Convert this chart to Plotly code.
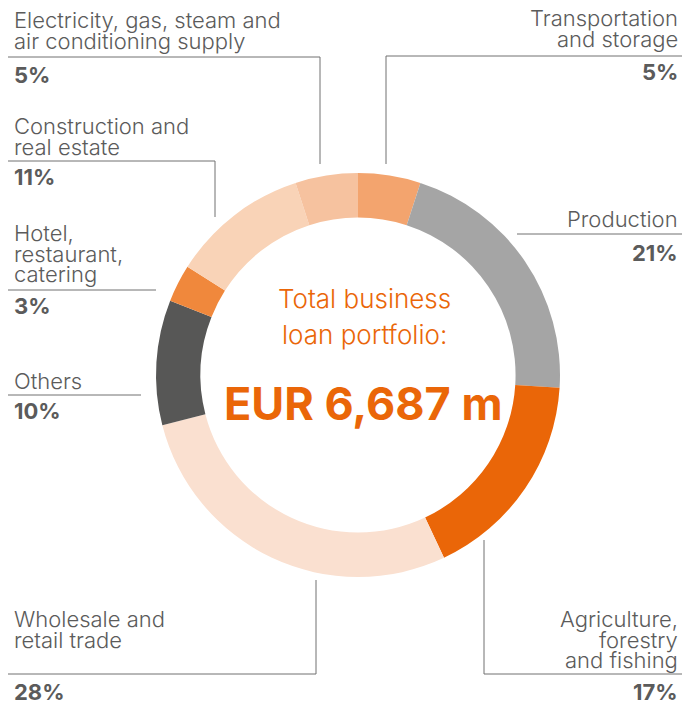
import plotly.graph_objects as go

# reference frame is 690x702; the page body adds an 8px margin
W, H = 690, 702
OFF = 8
FW, FH = W - OFF, H - OFF

# data, clockwise from 12 o'clock
sectors = [
    "Transportation and storage",
    "Production",
    "Agriculture, forestry and fishing",
    "Wholesale and retail trade",
    "Others",
    "Hotel, restaurant, catering",
    "Construction and real estate",
    "Electricity, gas, steam and air conditioning supply",
]
shares = [5, 21, 17, 28, 10, 3, 11, 5]
colors = ["#F3A46E", "#A5A5A5", "#EA6608", "#FAE0D0",
          "#575756", "#F0883C", "#F9D3B7", "#F6C29F"]

# label text lines as drawn in the picture
label_lines = {
    "Transportation and storage": ["Transportation", "and storage"],
    "Production": ["Production"],
    "Agriculture, forestry and fishing": ["Agriculture,", "forestry", "and fishing"],
    "Wholesale and retail trade": ["Wholesale and", "retail trade"],
    "Others": ["Others"],
    "Hotel, restaurant, catering": ["Hotel,", "restaurant,", "catering"],
    "Construction and real estate": ["Construction and", "real estate"],
    "Electricity, gas, steam and air conditioning supply":
        ["Electricity, gas, steam and", "air conditioning supply"],
}
total_lines = ["Total business", "loan portfolio:"]
total_value = "EUR 6,687 m"

TEXT = "#5B5B5B"
LINE = "#707070"
ORANGE = "#EA6608"
FONT = "Inter, Roboto, sans-serif"


def px(x):
    return (x - OFF) / FW


def py(y):
    return 1 - (y - OFF) / FH


# label placement: (x, anchor, first-line y, line step, pct y, callout path)
layout_spec = {
    "Electricity, gas, steam and air conditioning supply":
        (12, "left", 19.5, 21.5, 75, [(0, 57), (320, 57), (320, 164)]),
    "Construction and real estate":
        (12, "left", 126, 20.5, 177, [(0, 161), (215, 161), (215, 217)]),
    "Hotel, restaurant, catering":
        (12, "left", 233, 20.5, 306, [(0, 290), (156, 290)]),
    "Others":
        (12, "left", 381, 20, 411, [(0, 395), (141, 395)]),
    "Wholesale and retail trade":
        (12, "left", 619, 20.5, 692, [(316, 580), (316, 674), (0, 674)]),
    "Transportation and storage":
        (680, "right", 18, 21.5, 72, [(386, 164), (386, 56), (700, 56)]),
    "Production":
        (680, "right", 219, 20, 253, [(517, 234), (700, 234)]),
    "Agriculture, forestry and fishing":
        (680, "right", 619, 20.5, 692, [(484, 540), (484, 674), (700, 674)]),
}

fig = go.Figure(
    go.Pie(
        labels=sectors,
        values=shares,
        sort=False,
        direction="clockwise",
        rotation=0,
        hole=0.78,
        marker=dict(colors=colors, line=dict(width=0)),
        textinfo="none",
        hoverinfo="label+percent",
        showlegend=False,
        domain=dict(x=[px(156), px(560)], y=[py(577), py(173)]),
    )
)

annotations = []
shapes = []
for name, share in zip(sectors, shares):
    x, anchor, y0, step, ypct, path = layout_spec[name]
    for i, line in enumerate(label_lines[name]):
        annotations.append(dict(
            x=px(x), y=py(y0 + i * step), xref="paper", yref="paper",
            text=line, showarrow=False, xanchor=anchor, yanchor="middle",
            font=dict(family=FONT, size=22, color=TEXT, weight=300),
        ))
    annotations.append(dict(
        x=px(x), y=py(ypct), xref="paper", yref="paper",
        text=f"<b>{share}%</b>", showarrow=False, xanchor=anchor, yanchor="middle",
        font=dict(family=FONT, size=22, color=TEXT),
    ))
    for (xa, ya), (xb, yb) in zip(path[:-1], path[1:]):
        shapes.append(dict(
            type="line", xref="paper", yref="paper",
            x0=px(xa), y0=py(ya), x1=px(xb), y1=py(yb),
            line=dict(color=LINE, width=1),
        ))

for i, line in enumerate(total_lines):
    annotations.append(dict(
        x=px(364), y=py(298 + i * 36), xref="paper", yref="paper",
        text=line, showarrow=False, xanchor="center", yanchor="middle",
        font=dict(family=FONT, size=26, color=ORANGE, weight=300),
    ))
annotations.append(dict(
    x=px(363), y=py(403), xref="paper", yref="paper",
    text=f"<b>{total_value}</b>", showarrow=False, xanchor="center", yanchor="middle",
    font=dict(family=FONT, size=45, color=ORANGE),
))

fig.update_layout(
    width=FW, height=FH,
    margin=dict(l=0, r=0, t=0, b=0),
    paper_bgcolor="white",
    plot_bgcolor="white",
    annotations=annotations,
    shapes=shapes,
)

fig.write_html("out.html")
